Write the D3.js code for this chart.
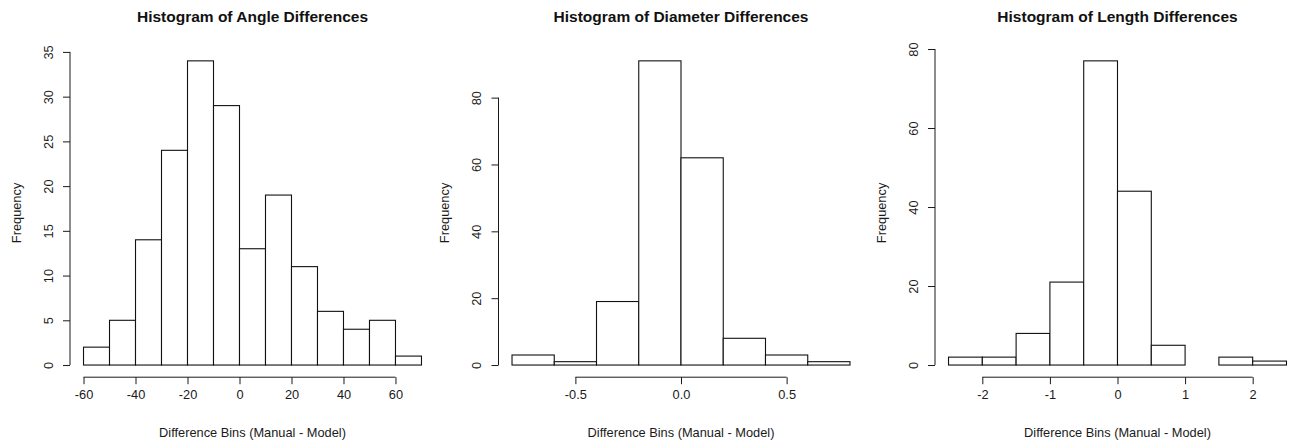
<!DOCTYPE html>
<html>
  <head>
    <meta charset="UTF-8">
    <style>
      body {
        margin: 0;
        background: white;
        font-family: "Liberation Sans", Arial, sans-serif;
      }

      .axis text {
        font-size: 12.8px;
        fill: #1a1a1a;
      }

      .axis line {
        stroke: #1a1a1a;
      }

      .title {
        font-size: 15.5px;
        font-weight: bold;
        fill: #111;
      }

      .label {
        font-size: 12.8px;
        fill: #1a1a1a;
      }
    </style>
    <script src="https://d3js.org/d3.v7.min.js"></script>
  </head>

  <body>
    <svg id="chart"></svg>

    <script type="text/javascript">
      // bin edges and counts
      const angleBreaks = [-60, -50, -40, -30, -20, -10, 0, 10, 20, 30, 40, 50, 60, 70]
      const angleCounts = [2, 5, 14, 24, 34, 29, 13, 19, 11, 6, 4, 5, 1]
      const angleXTicks = [-60, -40, -20, 0, 20, 40, 60]
      const angleYTicks = [0, 5, 10, 15, 20, 25, 30, 35]

      const diameterBreaks = [-0.8, -0.6, -0.4, -0.2, 0, 0.2, 0.4, 0.6, 0.8]
      const diameterCounts = [3, 1, 19, 91, 62, 8, 3, 1]
      const diameterXTicks = [-0.5, 0, 0.5]
      const diameterYTicks = [0, 20, 40, 60, 80]

      const lengthBreaks = [-2.5, -2, -1.5, -1, -0.5, 0, 0.5, 1, 1.5, 2, 2.5]
      const lengthCounts = [2, 2, 8, 21, 77, 44, 5, 0, 2, 1]
      const lengthXTicks = [-2, -1, 0, 1, 2]
      const lengthYTicks = [0, 20, 40, 60, 80]

      const titles = [
        'Histogram of Angle Differences',
        'Histogram of Diameter Differences',
        'Histogram of Length Differences'
      ]
      const xTitle = 'Difference Bins (Manual - Model)'
      const yTitle = 'Frequency'

      function getChartConfig() {
        let width = 1294
        let height = 444
        // plot regions of the three panels
        let plotLefts = [70, 498.5, 935]
        let plotWidth = 365
        let plotTop = 48.7
        let plotBottom = 377.2

        let container = d3.select('#chart')
          .attr('width', width)
          .attr('height', height)

        return { width, height, plotLefts, plotWidth, plotTop, plotBottom, container }
      }

      function tickFormat(ticks) {
        let decimals = ticks.some(t => !Number.isInteger(t)) ? 1 : 0
        return d => d.toFixed(decimals)
      }

      function drawPanel(panel, left, config) {
        let g = config.container.append('g')

        // R style: extend the data range by 4% on each side
        let xMin = panel.breaks[0]
        let xMax = panel.breaks[panel.breaks.length - 1]
        let xPad = (xMax - xMin) * 0.04
        let yMax = d3.max(panel.counts)
        let yPad = yMax * 0.04

        let xScale = d3.scaleLinear()
          .domain([xMin - xPad, xMax + xPad])
          .range([left, left + config.plotWidth])

        let yScale = d3.scaleLinear()
          .domain([-yPad, yMax + yPad])
          .range([config.plotBottom, config.plotTop])

        let bins = panel.counts.map((c, i) => ({ x0: panel.breaks[i], x1: panel.breaks[i + 1], count: c }))

        g.selectAll('rect')
          .data(bins)
          .join('rect')
            .attr('x', d => xScale(d.x0))
            .attr('width', d => xScale(d.x1) - xScale(d.x0))
            .attr('y', d => yScale(d.count))
            .attr('height', d => yScale(0) - yScale(d.count))
            .attr('fill', 'white')
            .attr('stroke', '#111')
            .attr('stroke-width', 1.1)

        // x axis
        let xAxis = g.append('g')
          .attr('class', 'axis')
          .attr('transform', `translate(0, ${config.plotBottom})`)
          .call(d3.axisBottom(xScale)
            .tickValues(panel.xTicks)
            .tickFormat(tickFormat(panel.xTicks))
            .tickSize(7)
            .tickPadding(6))
        xAxis.select('.domain').remove()
        xAxis.append('line')
          .attr('x1', xScale(panel.xTicks[0]))
          .attr('x2', xScale(panel.xTicks[panel.xTicks.length - 1]))
        xAxis.selectAll('text').attr('font-family', null)

        // y axis
        let yAxis = g.append('g')
          .attr('class', 'axis')
          .attr('transform', `translate(${left}, 0)`)
          .call(d3.axisLeft(yScale)
            .tickValues(panel.yTicks)
            .tickSize(7))
        yAxis.select('.domain').remove()
        yAxis.append('line')
          .attr('y1', yScale(panel.yTicks[0]))
          .attr('y2', yScale(panel.yTicks[panel.yTicks.length - 1]))
        yAxis.selectAll('text')
          .attr('transform', 'rotate(-90)')
          .attr('text-anchor', 'middle')
          .attr('x', 0)
          .attr('y', -17.5)
          .attr('dy', null)
          .attr('font-family', null)

        let cx = left + config.plotWidth / 2
        let cy = (config.plotTop + config.plotBottom) / 2

        g.append('text')
          .attr('class', 'title')
          .attr('x', cx)
          .attr('y', 22.3)
          .attr('text-anchor', 'middle')
          .text(panel.title)

        g.append('text')
          .attr('class', 'label')
          .attr('x', cx)
          .attr('y', 437.3)
          .attr('text-anchor', 'middle')
          .text(xTitle)

        g.append('text')
          .attr('class', 'label')
          .attr('transform', `translate(${left - 49.5}, ${cy}) rotate(-90)`)
          .attr('text-anchor', 'middle')
          .text(yTitle)
      }

      function showData() {
        let config = getChartConfig()
        let panels = [
          { title: titles[0], breaks: angleBreaks, counts: angleCounts, xTicks: angleXTicks, yTicks: angleYTicks },
          { title: titles[1], breaks: diameterBreaks, counts: diameterCounts, xTicks: diameterXTicks, yTicks: diameterYTicks },
          { title: titles[2], breaks: lengthBreaks, counts: lengthCounts, xTicks: lengthXTicks, yTicks: lengthYTicks }
        ]
        panels.forEach((p, i) => drawPanel(p, config.plotLefts[i], config))
      }

      showData()
    </script>
  </body>
</html>
